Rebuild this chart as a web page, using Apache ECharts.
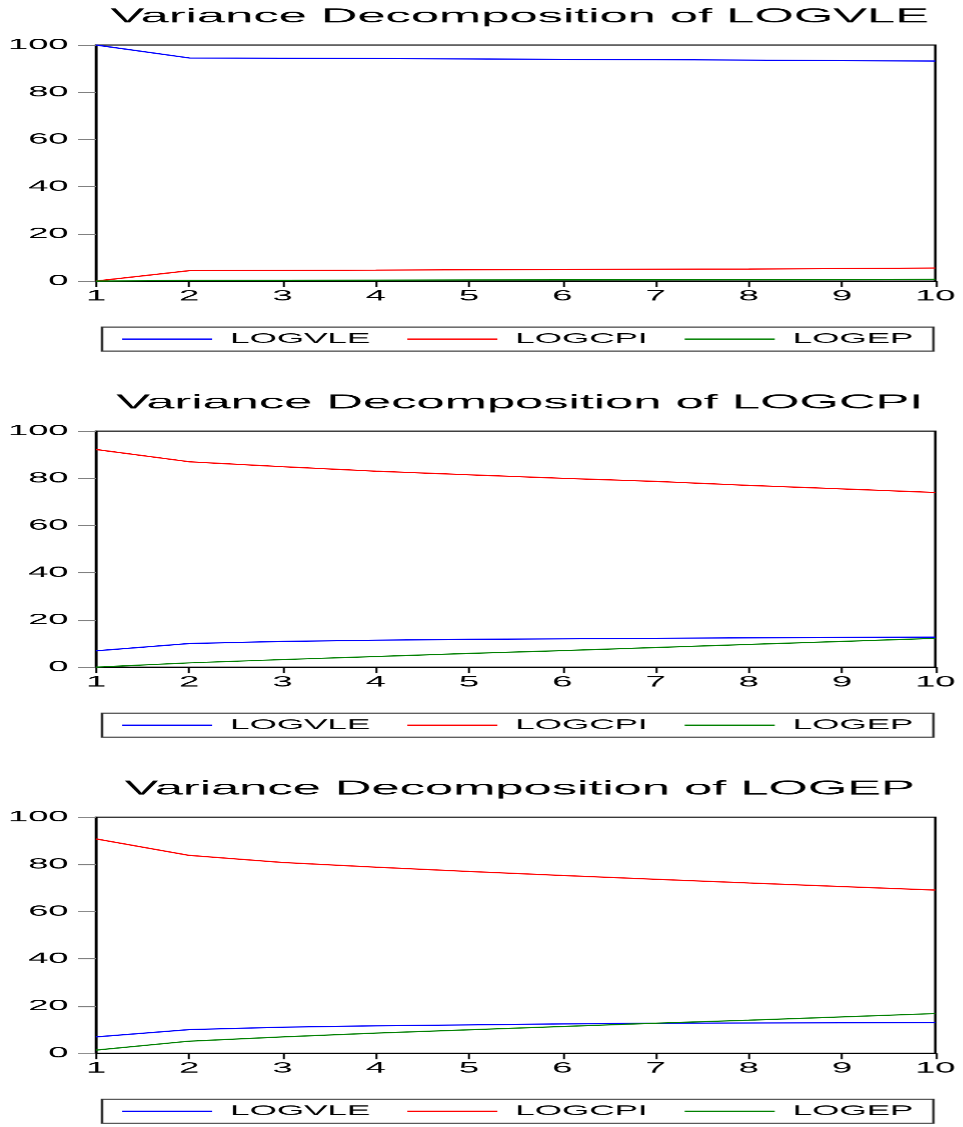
<!DOCTYPE html>
<html>
<head>
<meta charset="utf-8">
<script src="https://cdn.jsdelivr.net/npm/echarts@6/dist/echarts.min.js"></script>
<style>
  html, body { margin: 0; padding: 0; background: #fff; overflow: hidden; }
  #wrap { width: 963px; height: 1127px; overflow: hidden; }
  #chart { width: 385.2px; height: 1127px; transform: scaleX(2.5); transform-origin: 0 0; }
</style>
</head>
<body>
<div id="wrap"><div id="chart"></div></div>
<script>
// ---- data ----
const periods = ['1', '2', '3', '4', '5', '6', '7', '8', '9', '10'];
const seriesNames = ['LOGVLE', 'LOGCPI', 'LOGEP'];
const titles = [
  'Variance Decomposition of LOGVLE',
  'Variance Decomposition of LOGCPI',
  'Variance Decomposition of LOGEP'
];
const yTicks = [0, 20, 40, 60, 80, 100];

// Panel 1: Variance Decomposition of LOGVLE
const vleByVLE = [100, 94.5, 94.4, 94.3, 94.1, 93.9, 93.8, 93.6, 93.4, 93.2];
const vleByCPI = [0, 4.4, 4.5, 4.6, 4.8, 4.9, 5.0, 5.1, 5.3, 5.5];
const vleByEP  = [0, 0.3, 0.35, 0.4, 0.45, 0.5, 0.55, 0.6, 0.65, 0.7];

// Panel 2: Variance Decomposition of LOGCPI
const cpiByVLE = [6.9, 10.0, 10.9, 11.4, 11.8, 12.0, 12.2, 12.4, 12.6, 12.7];
const cpiByCPI = [92.2, 87.0, 84.9, 83.0, 81.5, 80.0, 78.7, 77.0, 75.5, 74.0];
const cpiByEP  = [0, 1.8, 3.2, 4.5, 5.8, 7.0, 8.3, 9.6, 10.9, 12.2];

// Panel 3: Variance Decomposition of LOGEP
const epByVLE = [6.9, 10.0, 11.0, 11.6, 12.0, 12.4, 12.7, 12.8, 12.9, 13.0];
const epByCPI = [90.8, 83.8, 80.8, 78.8, 77.0, 75.3, 73.7, 72.1, 70.6, 69.1];
const epByEP  = [1.3, 5.1, 6.9, 8.5, 9.9, 11.3, 12.7, 14.0, 15.4, 16.8];

const panelData = [
  [vleByVLE, vleByCPI, vleByEP],
  [cpiByVLE, cpiByCPI, cpiByEP],
  [epByVLE, epByCPI, epByEP]
];
const colors = ['#0000ff', '#ff0000', '#008000'];

// ---- layout (in the pre-stretch coordinate space, chart is stretched 2.5x horizontally) ----
const W = 385.2;
const gridLeft = 38.4, gridRight = 10;
const plotH = 236;
const panelStep = 386;
const gridTop0 = 45;
const legendTop0 = 327;
const titleCenterX = (gridLeft + (W - gridRight)) / 2 - 4;
const FONT = '"Liberation Sans", Arial, sans-serif';

const grids = [], xAxes = [], yAxes = [], series = [], legends = [], titleList = [];
for (let p = 0; p < 3; p++) {
  const top = gridTop0 + p * panelStep;
  grids.push({
    left: gridLeft, right: gridRight, top: top, height: plotH,
    show: true, borderColor: '#000', borderWidth: 1, containLabel: false
  });
  xAxes.push({
    type: 'category', gridIndex: p, data: periods, boundaryGap: false,
    axisLine: { show: true, lineStyle: { color: '#000', width: 1 } },
    axisTick: { show: true, inside: false, length: 6, lineStyle: { color: '#000', width: 0.8 } },
    axisLabel: { color: '#000', fontSize: 14.5, fontFamily: FONT, margin: 8, interval: 0 },
    splitLine: { show: false }
  });
  yAxes.push({
    type: 'value', gridIndex: p, min: yTicks[0], max: yTicks[yTicks.length - 1], interval: 20,
    axisLine: { show: true, lineStyle: { color: '#000', width: 1 } },
    axisTick: { show: true, inside: false, length: 7.2, lineStyle: { color: '#808080', width: 1 } },
    axisLabel: { color: '#000', fontSize: 14.5, fontFamily: FONT, margin: 11 },
    splitLine: { show: false }
  });
  for (let s = 0; s < 3; s++) {
    series.push({
      type: 'line', name: seriesNames[s], xAxisIndex: p, yAxisIndex: p,
      data: panelData[p][s], symbol: 'none', smooth: false,
      lineStyle: { color: colors[s], width: 1.2 }, itemStyle: { color: colors[s] },
      animation: false, silent: true
    });
  }
  legends.push({
    data: seriesNames, left: 40.8, top: legendTop0 + p * panelStep,
    orient: 'horizontal', icon: 'rect', itemWidth: 36, itemHeight: 1.2, itemGap: 14.8,
    padding: [5, 8, 5, 8], borderColor: '#333', borderWidth: 1,
    textStyle: { color: '#000', fontSize: 14, fontFamily: FONT, padding: [0, 0, 0, 2.2] },
    selectedMode: false
  });
  titleList.push({
    text: titles[p], left: titleCenterX, textAlign: 'center',
    top: p * panelStep + 2, padding: 5,
    textStyle: { color: '#000', fontSize: 20.25, fontWeight: 'normal', fontFamily: FONT }
  });
}

const chart = echarts.init(document.getElementById('chart'), null, { renderer: 'canvas', devicePixelRatio: 2.5 });
chart.setOption({
  animation: false,
  backgroundColor: '#fff',
  title: titleList,
  legend: legends,
  grid: grids,
  xAxis: xAxes,
  yAxis: yAxes,
  series: series
});
</script>
</body>
</html>
